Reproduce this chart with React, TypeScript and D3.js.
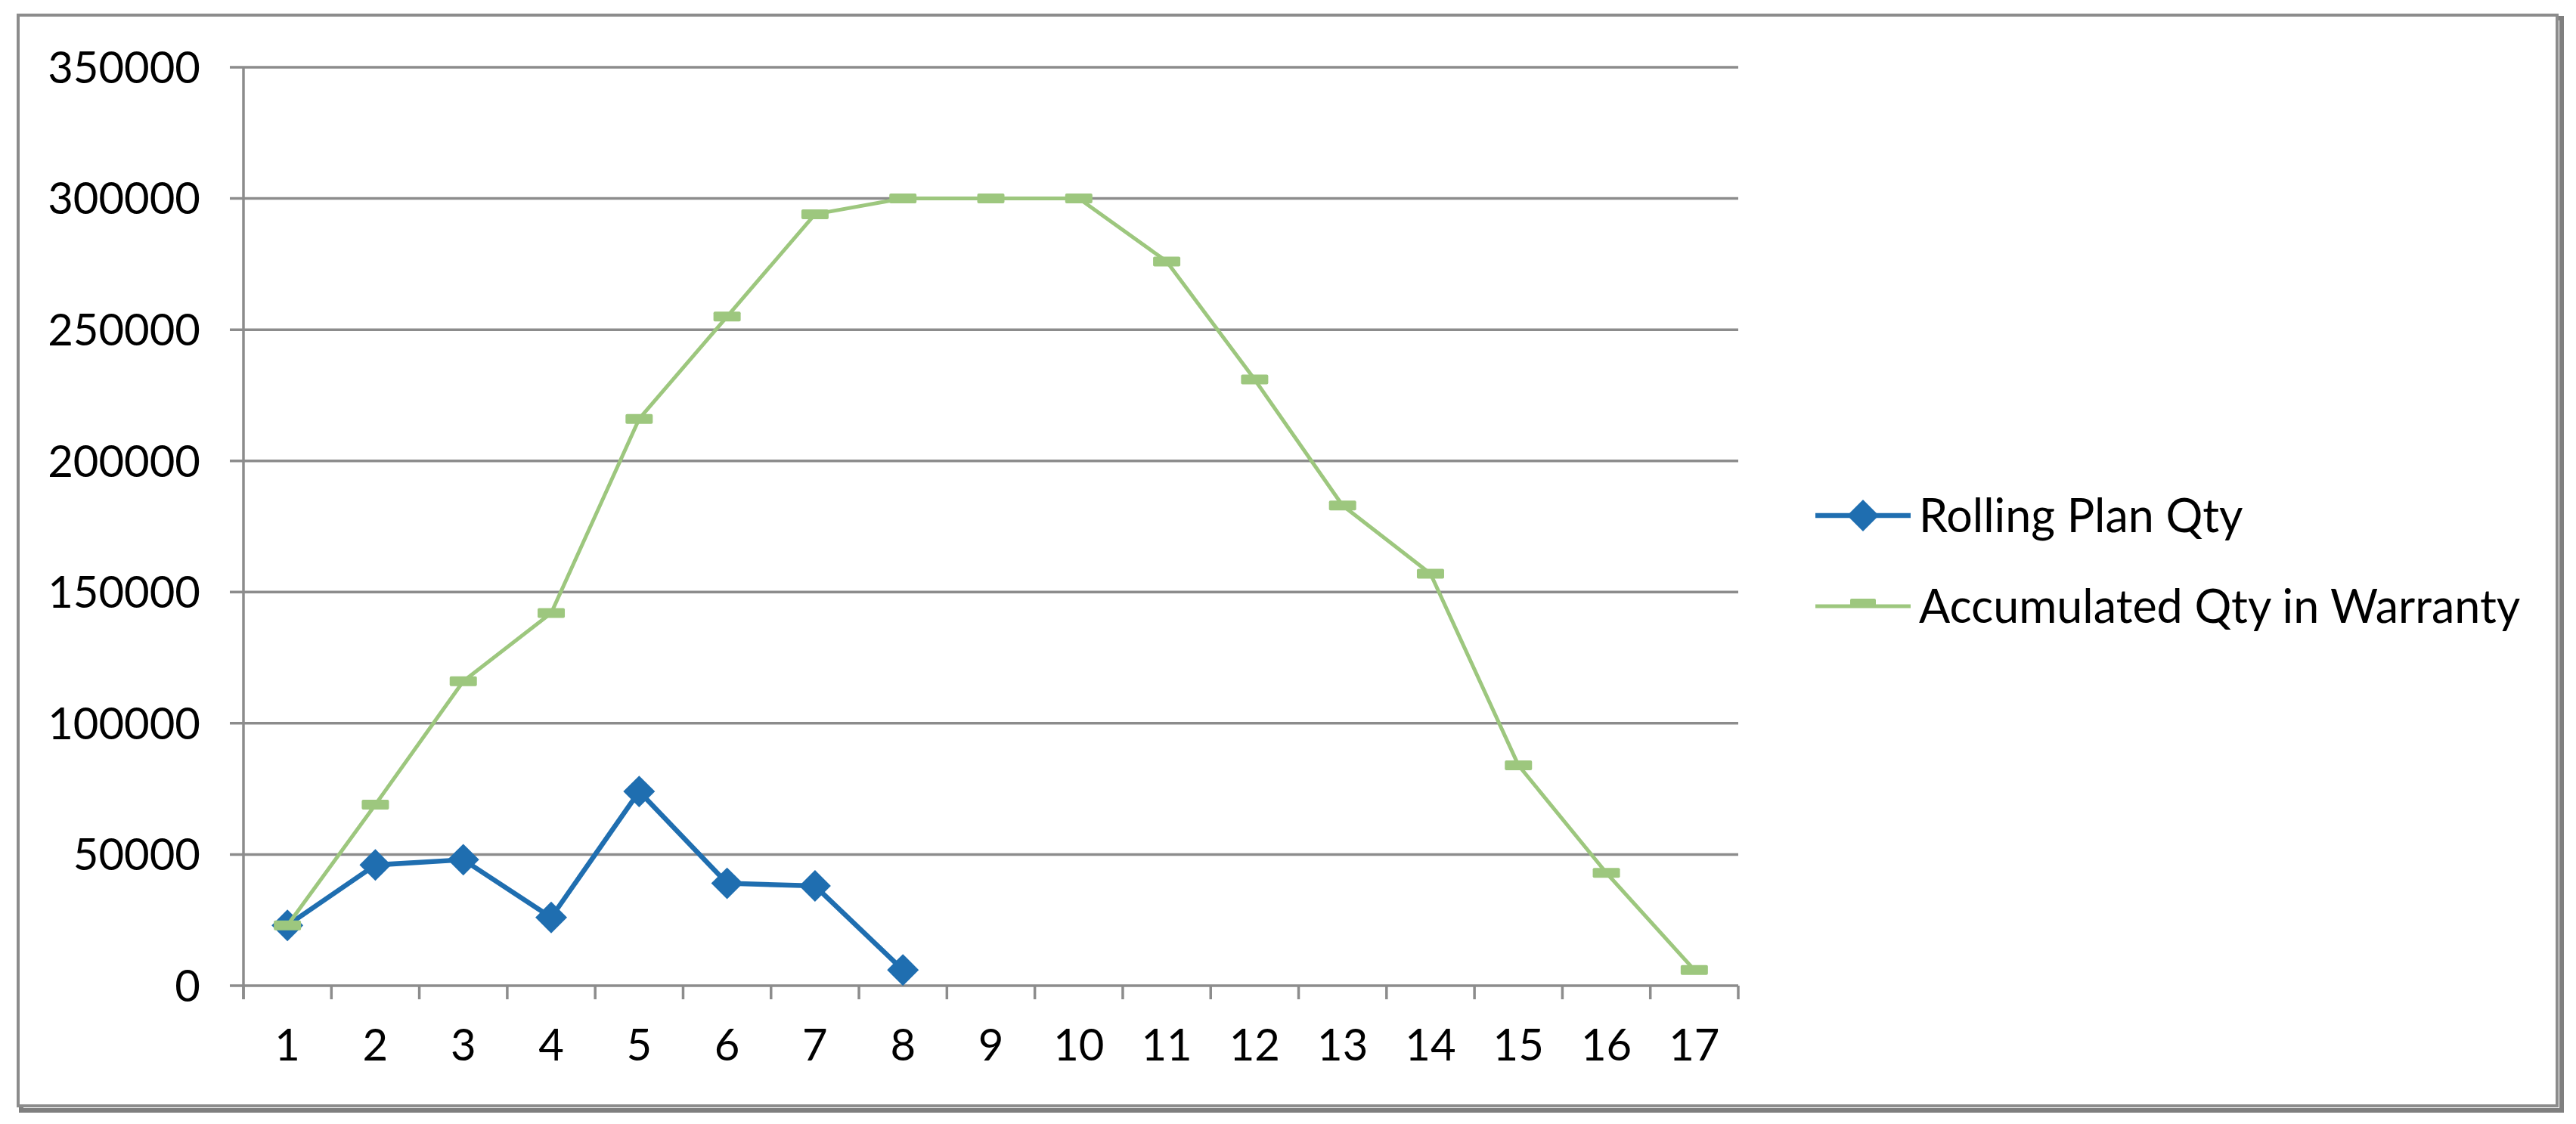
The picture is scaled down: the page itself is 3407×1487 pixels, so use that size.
import { useEffect, useRef } from 'react'
import * as d3 from 'd3'

// dados
const periods = ['1', '2', '3', '4', '5', '6', '7', '8', '9', '10', '11', '12', '13', '14', '15', '16', '17']
const rollingPlanQty = [23000, 46000, 48000, 26000, 74000, 39000, 38000, 6000]
const accumulatedQty = [23000, 69000, 116000, 142000, 216000, 255000, 294000, 300000, 300000, 300000, 276000, 231000, 183000, 157000, 84000, 43000, 6000]
const yTicks = [0, 50000, 100000, 150000, 200000, 250000, 300000, 350000]

const seriesNames = ['Rolling Plan Qty', 'Accumulated Qty in Warranty']
const BLUE = '#1F6EB0'
const GREEN = '#9DC77E'
const GRID = '#8C8C8C'
const FONT = 'Lato, "Open Sans", sans-serif'

function App() {
  const svgRef = useRef(null)

  useEffect(() => {
    document.body.style.margin = '0'
    const width = 3407
    const height = 1487
    const margin = { top: 89, right: 3407 - 2299, bottom: 1487 - 1304, left: 322 }
    const innerWidth = width - margin.left - margin.right
    const innerHeight = height - margin.top - margin.bottom

    const svg = d3.select(svgRef.current)
    svg.selectAll('*').remove()
    svg.attr('width', width).attr('height', height)

    svg.append('rect').attr('width', width).attr('height', height).attr('fill', '#fff')

    // moldura com sombra
    svg.append('rect')
      .attr('x', 28).attr('y', 24)
      .attr('width', 3360).attr('height', 1445)
      .attr('fill', 'none').attr('stroke', '#7f7f7f').attr('stroke-width', 6)
    svg.append('rect')
      .attr('x', 24).attr('y', 20)
      .attr('width', 3358).attr('height', 1443)
      .attr('fill', '#fff').attr('stroke', '#8c8c8c').attr('stroke-width', 4)

    const x = d3.scaleBand().domain(periods).range([0, innerWidth]).padding(0)
    const y = d3.scaleLinear().domain([0, 350000]).range([innerHeight, 0])

    const g = svg.append('g').attr('transform', `translate(${margin.left},${margin.top})`)

    // grade horizontal
    g.selectAll('.grid')
      .data(yTicks)
      .enter()
      .append('line')
      .attr('x1', -18)
      .attr('x2', innerWidth)
      .attr('y1', d => y(d))
      .attr('y2', d => y(d))
      .attr('stroke', GRID)
      .attr('stroke-width', 3.5)

    // eixo y
    g.append('line')
      .attr('x1', 0).attr('x2', 0)
      .attr('y1', 0).attr('y2', innerHeight + 18)
      .attr('stroke', GRID).attr('stroke-width', 3.5)

    // marcas do eixo x
    const bounds = periods.map(p => x(p)).concat([innerWidth])
    g.selectAll('.xtick')
      .data(bounds)
      .enter()
      .append('line')
      .attr('x1', d => d).attr('x2', d => d)
      .attr('y1', innerHeight).attr('y2', innerHeight + 18)
      .attr('stroke', GRID).attr('stroke-width', 3.5)

    g.selectAll('.ylabel')
      .data(yTicks)
      .enter()
      .append('text')
      .attr('x', -57)
      .attr('y', d => y(d))
      .attr('dy', '0.36em')
      .attr('text-anchor', 'end')
      .attr('font-family', FONT)
      .attr('font-size', 58)
      .attr('fill', '#000')
      .text(d => d)

    g.selectAll('.xlabel')
      .data(periods)
      .enter()
      .append('text')
      .attr('x', d => x(d) + x.bandwidth() / 2)
      .attr('y', innerHeight + 78)
      .attr('dy', '0.36em')
      .attr('text-anchor', 'middle')
      .attr('font-family', FONT)
      .attr('font-size', 58)
      .attr('fill', '#000')
      .text(d => d)

    const cx = (i) => x(periods[i]) + x.bandwidth() / 2
    const line = d3.line().x((d, i) => cx(i)).y(d => y(d))

    const diamond = d3.symbol().type(d3.symbolSquare).size(880)

    // série azul
    g.append('path')
      .datum(rollingPlanQty)
      .attr('d', line)
      .attr('fill', 'none')
      .attr('stroke', BLUE)
      .attr('stroke-width', 6.5)
      .attr('stroke-linejoin', 'round')
    g.selectAll('.diamond')
      .data(rollingPlanQty)
      .enter()
      .append('path')
      .attr('d', diamond)
      .attr('transform', (d, i) => `translate(${cx(i)},${y(d)}) rotate(45)`)
      .attr('fill', BLUE)

    // série verde
    g.append('path')
      .datum(accumulatedQty)
      .attr('d', line)
      .attr('fill', 'none')
      .attr('stroke', GREEN)
      .attr('stroke-width', 5)
      .attr('stroke-linejoin', 'round')
    g.selectAll('.dash')
      .data(accumulatedQty)
      .enter()
      .append('rect')
      .attr('x', (d, i) => cx(i) - 18)
      .attr('y', d => y(d) - 6.5)
      .attr('width', 36)
      .attr('height', 13)
      .attr('rx', 2)
      .attr('fill', GREEN)

    // legenda
    const legend = svg.append('g').attr('transform', 'translate(2401,682)')
    const rows = legend.selectAll('.row')
      .data(seriesNames)
      .enter()
      .append('g')
      .attr('transform', (d, i) => `translate(0,${i * 120})`)
    rows.append('line')
      .attr('x1', 0).attr('x2', 126)
      .attr('stroke', (d, i) => (i === 0 ? BLUE : GREEN))
      .attr('stroke-width', (d, i) => (i === 0 ? 6.5 : 5))
    rows.filter((d, i) => i === 0)
      .append('path')
      .attr('d', diamond)
      .attr('transform', 'translate(63,0) rotate(45)')
      .attr('fill', BLUE)
    rows.filter((d, i) => i === 1)
      .append('rect')
      .attr('x', 46).attr('y', -10).attr('width', 34).attr('height', 11).attr('rx', 2)
      .attr('fill', GREEN)
    rows.append('text')
      .attr('x', 137)
      .attr('dy', '0.36em')
      .attr('font-family', FONT)
      .attr('font-size', 61)
      .attr('fill', '#000')
      .text(d => d)
  }, [])

  return (
    <div style={{ width: 3407, height: 1487 }}>
      <svg ref={svgRef} style={{ display: 'block' }}></svg>
    </div>
  )
}

export default App
